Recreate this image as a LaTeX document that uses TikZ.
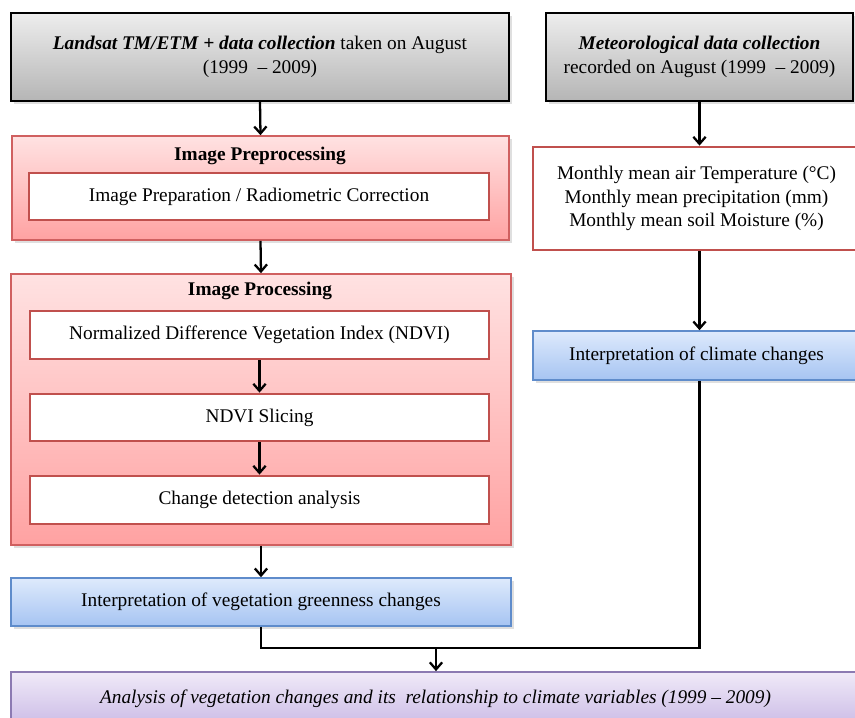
\documentclass[tikz,border=0pt]{standalone}
\usepackage{fontspec}
\setmainfont{Liberation Serif}
\usetikzlibrary{arrows.meta}
\usetikzlibrary{shadows}
\definecolor{redline}{HTML}{C0504D}
\definecolor{pinkline}{HTML}{D06060}
\definecolor{pinktop}{HTML}{FFE2E2}
\definecolor{pinkbot}{HTML}{FFA2A2}
\definecolor{blueline}{HTML}{5F8CCB}
\definecolor{bluetop}{HTML}{DEEAFC}
\definecolor{bluebot}{HTML}{A6C4F2}
\definecolor{purpline}{HTML}{8C7AB2}
\definecolor{purptop}{HTML}{F0EAF8}
\definecolor{purpbot}{HTML}{CBBBE6}
\tikzset{
  box/.style={rectangle, inner sep=0pt, align=center, font=\fontsize{11}{13.5}\selectfont},
  shade/.style={drop shadow={opacity=0.25, shadow xshift=1.5pt, shadow yshift=-1.5pt}},
  greybox/.style={box, shade, draw=black, line width=0.9pt, top color=black!7, bottom color=black!29},
  pinkbox/.style={box, shade, draw=pinkline, line width=0.9pt, top color=pinktop, bottom color=pinkbot},
  inbox/.style={box, fill=white, draw=redline, line width=1.6pt},
  bluebox/.style={box, shade, draw=blueline, line width=0.9pt, top color=bluetop, bottom color=bluebot},
  purpbox/.style={box, draw=purpline, line width=1pt, top color=purptop, bottom color=purpbot},
  arr/.style={-{Straight Barb[length=4pt,width=7pt]}, line width=1.3pt},
  conn/.style={line width=1.3pt}
}
\newcommand{\blk}[7]{\node[#6, minimum width={(#4-#2)*0.02cm}, minimum height={(#5-#3)*0.02cm}] (#1) at ({(#2+#4)/2},{(#3+#5)/2}) {#7};}
\newcommand{\ttl}[4]{\node[box, font=\fontsize{11}{13.5}\selectfont\bfseries] (#1) at (#2,#3) {#4};}

\begin{document}
\begin{tikzpicture}[x=0.02cm, y=-0.02cm]
    \path[use as bounding box] (0,0) rectangle (855,717);
    \clip (0,0) rectangle (855,717);

    % left column
    \blk{land}{11}{13}{509}{101}{greybox}{\textbf{\textit{Landsat TM/ETM + data collection}} taken on August\\(1999 \ -- 2009)}
    \blk{pre}{12}{136}{509}{240}{pinkbox}{}
    \ttl{pretl}{260}{156}{Image Preprocessing}
    \blk{prep}{29}{173}{489}{220}{inbox}{Image Preparation / Radiometric Correction}

    \blk{proc}{11}{274}{511}{545}{pinkbox}{}
    \ttl{proctl}{260}{291}{Image Processing}
    \blk{ndvi}{30}{311}{489}{359}{inbox}{Normalized Difference Vegetation Index (NDVI)}
    \blk{slice}{30}{394}{489}{441}{inbox}{NDVI Slicing}
    \blk{chg}{30}{476}{489}{524}{inbox}{Change detection analysis}

    \blk{veg}{11}{578}{511}{626}{bluebox}{Interpretation of vegetation greenness changes}

    % right column
    \blk{met}{546}{13}{853}{101}{greybox}{\textbf{\textit{Meteorological data collection}}\\recorded on August (1999 \ -- 2009)}
    \blk{mon}{533}{147}{860}{250}{inbox}{Monthly mean air Temperature (°C)\\Monthly mean precipitation (mm)\\Monthly mean soil Moisture (\%)}
    \blk{clim}{533}{331}{860}{380}{bluebox}{Interpretation of climate changes}

    % result
    \blk{res}{11}{672}{860}{726}{purpbox}{\textit{Analysis of vegetation changes and its \ relationship to climate variables (1999 -- 2009)}}

    % connectors
    \draw[arr] (land.south) -- (pre.north);
    \draw[arr] (pre.south) -- (proc.north);
    \draw[arr] (ndvi.south) -- (slice.north);
    \draw[arr] (slice.south) -- (chg.north);
    \draw[arr] (proc.south) -- (veg.north);
    \draw[arr] (met.south) -- (met.south |- mon.north);
    \draw[arr] (met.south |- mon.south) -- (met.south |- clim.north);

    \coordinate (jn) at (436,648);
    \draw[conn] (veg.south) |- (jn);
    \draw[conn] (met.south |- clim.south) |- (jn);
    \draw[arr] (jn) -- (jn |- res.north);
\end{tikzpicture}
\end{document}
